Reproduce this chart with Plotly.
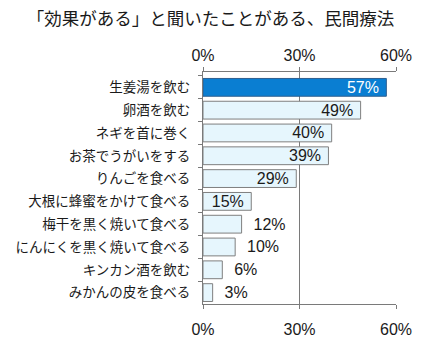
import plotly.graph_objects as go

title = "「効果がある」と聞いたことがある、民間療法"
categories = ["生姜湯を飲む", "卵酒を飲む", "ネギを首に巻く", "お茶でうがいをする", "りんごを食べる",
              "大根に蜂蜜をかけて食べる", "梅干を黒く焼いて食べる", "にんにくを黒く焼いて食べる",
              "キンカン酒を飲む", "みかんの皮を食べる"]
values = [57, 49, 40, 39, 29, 15, 12, 10, 6, 3]
tick_vals = [0, 30, 60]
tick_text = ["0%", "30%", "60%"]

FONT = "Liberation Sans, Arial, Noto Sans CJK JP, sans-serif"
inside = [v >= 15 for v in values]
colors = ["#0A7ED2"] + ["#E6F6FD"] * (len(values) - 1)
line_colors = ["#2F5F8F"] + ["#7F7F7F"] * (len(values) - 1)
text_colors = ["white"] + ["#1a1a1a"] * (len(values) - 1)
labels = [f"{v}%\u00a0" if ins else f"\u00a0\u00a0{v}%" for v, ins in zip(values, inside)]

fig = go.Figure()
fig.add_trace(go.Bar(
    x=values, y=categories, orientation="h",
    marker=dict(color=colors, line=dict(color=line_colors, width=1)),
    width=0.78,
    text=labels,
    textposition=["inside" if i else "outside" for i in inside],
    insidetextanchor="end",
    constraintext="none",
    textfont=dict(family=FONT, size=16, color=text_colors),
    cliponaxis=False,
    showlegend=False,
))
fig.add_trace(go.Scatter(x=[0, 60], y=[categories[0], categories[0]], xaxis="x2",
                         mode="markers", marker=dict(opacity=0), showlegend=False,
                         hoverinfo="skip"))

axis_common = dict(range=[0, 60], tickvals=tick_vals, ticktext=tick_text,
                   showgrid=True, gridcolor="#7a7a7a", gridwidth=1,
                   showline=True, linecolor="#7a7a7a", linewidth=1,
                   ticks="outside", ticklen=4, tickcolor="#7a7a7a",
                   tickfont=dict(family=FONT, size=16, color="#1a1a1a"),
                   zeroline=False, fixedrange=True, automargin=False)

fig.update_layout(
    width=421, height=338,
    margin=dict(l=203, r=25, t=72, b=34),
    paper_bgcolor="white", plot_bgcolor="white",
    uniformtext=dict(mode=False),
    title=dict(text=title, x=0.5, xanchor="center", y=0.945, yanchor="middle",
               font=dict(family="Noto Sans CJK JP, sans-serif", size=17.5, color="#1a1a1a")),
    xaxis=dict(side="bottom", ticklabelstandoff=7, **axis_common),
    xaxis2=dict(side="top", overlaying="x", anchor="y", **axis_common),
    yaxis=dict(autorange="reversed", type="category", tickson="boundaries",
               ticks="outside", ticklen=4, tickcolor="#7a7a7a",
               showline=True, linecolor="#7a7a7a", linewidth=1,
               showgrid=False, ticklabelstandoff=9, automargin=False,
               tickfont=dict(family="Noto Sans CJK JP, sans-serif", size=13.5, color="#1a1a1a")),
    bargap=0.22,
)

fig.write_html("out.html")
